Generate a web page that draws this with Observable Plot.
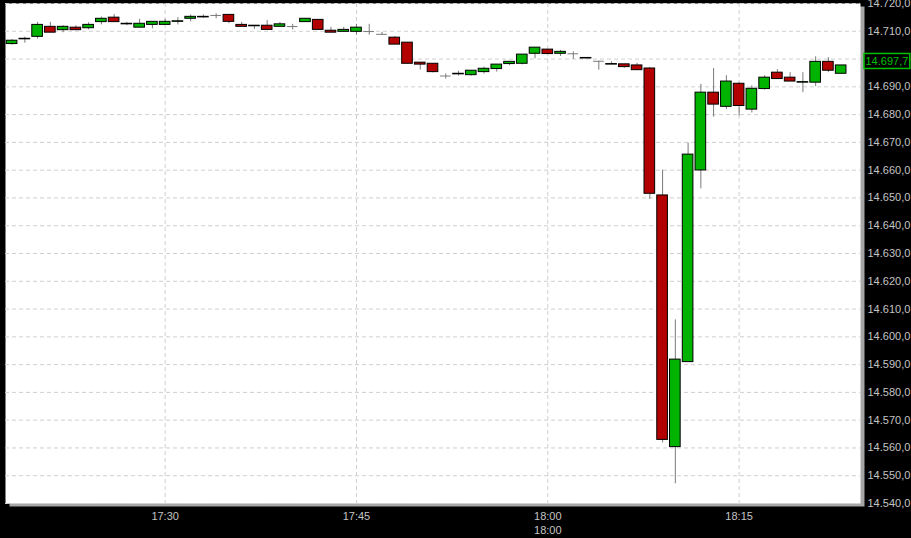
<!DOCTYPE html>
<html>
<head>
<meta charset="utf-8">
<script src="https://cdn.jsdelivr.net/npm/d3@7"></script>
<script src="https://cdn.jsdelivr.net/npm/@observablehq/plot@0.6"></script>
<style>
  html, body { margin: 0; padding: 0; background: #000; }
  #chart { width: 911px; height: 538px; overflow: hidden; }
</style>
</head>
<body>
<div id="chart"></div>
<script>
// ---- data (1-minute candles) ----
const times = ["17:18","17:19","17:20","17:21","17:22","17:23","17:24","17:25","17:26","17:27",
  "17:28","17:29","17:30","17:31","17:32","17:33","17:34","17:35","17:36","17:37",
  "17:38","17:39","17:40","17:41","17:42","17:43","17:44","17:45","17:46","17:47",
  "17:48","17:49","17:50","17:51","17:52","17:53","17:54","17:55","17:56","17:57",
  "17:58","17:59","18:00","18:01","18:02","18:03","18:04","18:05","18:06","18:07",
  "18:08","18:09","18:10","18:11","18:12","18:13","18:14","18:15","18:16","18:17",
  "18:18","18:19","18:20","18:21","18:22","18:23"];
const open = [14705.4,14707.1,14708.0,14711.6,14710.4,14711.3,14711.1,14713.3,14714.9,14712.7,
  14711.3,14712.3,14712.3,14713.4,14714.5,14715.0,14715.7,14715.9,14712.3,14712.0,
  14712.0,14711.6,14711.7,14713.3,14714.1,14710.2,14709.8,14709.8,14709.9,14708.9,
  14707.7,14705.9,14698.7,14698.3,14693.9,14694.5,14694.2,14695.3,14696.4,14698.2,
  14698.3,14701.9,14703.4,14701.9,14701.9,14700.2,14699.2,14698.0,14698.1,14697.7,
  14696.6,14650.9,14560.3,14590.9,14659.9,14687.9,14682.8,14691.1,14681.8,14689.2,
  14695.1,14693.3,14691.5,14691.5,14699.0,14694.7];
const high = [14707.0,14707.9,14713.2,14713.2,14712.0,14712.0,14713.1,14715.1,14716.0,14713.2,
  14714.3,14713.4,14714.3,14714.9,14715.9,14715.9,14716.3,14715.9,14713.2,14712.0,
  14713.9,14713.2,14712.5,14714.5,14714.1,14711.4,14711.4,14712.5,14712.5,14709.6,
  14708.1,14705.9,14698.7,14698.3,14694.6,14695.6,14695.8,14697.1,14698.0,14699.0,
  14701.6,14704.1,14703.4,14703.1,14702.6,14700.4,14699.2,14699.0,14698.1,14698.5,
  14697.0,14660.0,14606.1,14669.8,14690.9,14696.6,14694.0,14691.5,14690.4,14694.0,
  14696.2,14695.1,14695.1,14700.8,14700.5,14697.7];
const low = [14705.0,14705.7,14707.2,14709.5,14709.5,14710.4,14710.5,14712.3,14713.3,14712.0,
  14711.3,14710.9,14712.3,14712.3,14713.4,14714.6,14714.5,14712.7,14711.6,14710.7,
  14710.5,14711.6,14710.5,14713.3,14710.5,14709.5,14709.8,14708.6,14708.6,14708.6,
  14705.2,14698.3,14696.0,14695.0,14692.8,14693.9,14693.9,14694.6,14695.3,14697.6,
  14697.9,14700.1,14701.8,14700.9,14699.9,14700.2,14696.0,14698.0,14696.7,14696.0,
  14649.5,14561.8,14547.1,14590.9,14653.3,14679.1,14681.8,14679.5,14680.6,14688.8,
  14692.8,14691.9,14687.9,14690.1,14695.1,14694.7];
const close = [14706.6,14707.3,14712.3,14709.5,14711.6,14710.4,14712.3,14714.5,14713.3,14712.5,
  14712.7,14713.4,14713.4,14713.6,14715.2,14715.2,14715.7,14713.4,14711.6,14711.8,
  14710.5,14712.5,14711.7,14714.5,14710.5,14709.5,14710.5,14711.3,14709.9,14708.9,
  14705.2,14698.3,14698.0,14695.3,14693.9,14694.7,14695.8,14696.5,14698.0,14699.0,
  14701.6,14704.1,14701.8,14702.6,14701.9,14700.4,14699.2,14698.2,14697.1,14696.0,
  14651.5,14562.9,14591.8,14665.6,14687.9,14683.6,14691.9,14683.1,14689.3,14693.3,
  14692.8,14691.9,14691.7,14699.0,14695.8,14697.7];

const yTicks = [14540,14550,14560,14570,14580,14590,14600,14610,14620,14630,
  14640,14650,14660,14670,14680,14690,14700,14710,14720];
const xTickLabels = ["17:30","17:45","18:00","18:15"];
const dateLineLabel = "18:00";
const lastPrice = 14697.7;
const domainStart = "17:17:29";
const domainEnd = "18:24:31";

// ---- build ----
const toDate = s => {
  const [h, m, sec] = s.split(":").map(Number);
  return new Date(Date.UTC(2020, 0, 2, h, m, sec || 0));
};
const candles = times.map((t, i) => ({
  date: toDate(t), open: open[i], high: high[i], low: low[i], close: close[i]
}));
const bodies = candles.filter(d => d.open !== d.close);
const crosses = candles.filter(d => d.open === d.close);
const half = 25000; // half body width in ms

const de = d3.formatLocale({decimal: ",", thousands: ".", grouping: [3], currency: ["", "€"]});
const fmtY = de.format(",.1f");
const fmtX = d3.utcFormat("%H:%M");

const GREEN = "#00b300", RED = "#b30000";
const axisColor = "#c4c4c4";

const plot = Plot.plot({
  width: 911,
  height: 538,
  marginLeft: 5,
  marginRight: 51,
  marginTop: 3,
  marginBottom: 35,
  style: {background: "#000", fontFamily: "'Liberation Sans', Arial, sans-serif", fontSize: "11px", color: axisColor},
  x: {type: "utc", domain: [toDate(domainStart), toDate(domainEnd)]},
  y: {domain: [14540, 14720]},
  marks: [
    Plot.frame({fill: "#a6a6a6", dx: 4, dy: 3}),
    Plot.frame({fill: "#ffffff"}),
    Plot.gridY(yTicks, {stroke: "#cfcfcf", strokeOpacity: 1, strokeDasharray: "4,3"}),
    Plot.gridX(xTickLabels.map(toDate), {stroke: "#cfcfcf", strokeOpacity: 1, strokeDasharray: "4,3"}),
    Plot.ruleX(candles, {x: "date", y1: "low", y2: "high", stroke: "#7a7a7a", strokeWidth: 1}),
    Plot.ruleY(crosses, {y: "close", x1: d => new Date(+d.date - half), x2: d => new Date(+d.date + half), stroke: "#7a7a7a", strokeWidth: 1}),
    Plot.rect(bodies, {
      x1: d => new Date(+d.date - half), x2: d => new Date(+d.date + half),
      y1: "open", y2: "close",
      fill: d => d.close > d.open ? GREEN : RED,
      stroke: "#000", strokeWidth: 1
    }),
    Plot.axisY(yTicks, {anchor: "right", tickSize: 0, tickPadding: 7, tickFormat: fmtY, textAnchor: "start", fill: axisColor, label: null}),
    Plot.axisX(xTickLabels.map(toDate), {anchor: "bottom", tickSize: 0, tickPadding: 9, tickFormat: fmtX, fill: axisColor, label: null}),
    Plot.axisX([toDate(dateLineLabel)], {anchor: "bottom", tickSize: 0, tickPadding: 23, tickFormat: () => dateLineLabel, fill: axisColor, label: null}),
    Plot.text([lastPrice], {
      y: d => d, frameAnchor: "right", dx: 5, dy: -4, textAnchor: "start",
      text: d => fmtY(d),
      fill: "#00c000", className: "last-price"
    })
  ]
});

document.getElementById("chart").appendChild(plot);

// green box around last price label
const lp = plot.querySelector(".last-price text");
if (lp) {
  const bb = lp.getBBox();
  const g = lp.parentNode;
  const r = document.createElementNS("http://www.w3.org/2000/svg", "rect");
  r.setAttribute("x", bb.x - 1.5);
  r.setAttribute("y", bb.y - 1.5);
  r.setAttribute("width", bb.width + 3);
  r.setAttribute("height", bb.height + 3);
  r.setAttribute("fill", "#000");
  r.setAttribute("stroke", "#00c000");
  r.setAttribute("stroke-width", 1.5);
  const t = lp.getAttribute("transform");
  if (t) r.setAttribute("transform", t);
  g.insertBefore(r, lp);
}
</script>
</body>
</html>
